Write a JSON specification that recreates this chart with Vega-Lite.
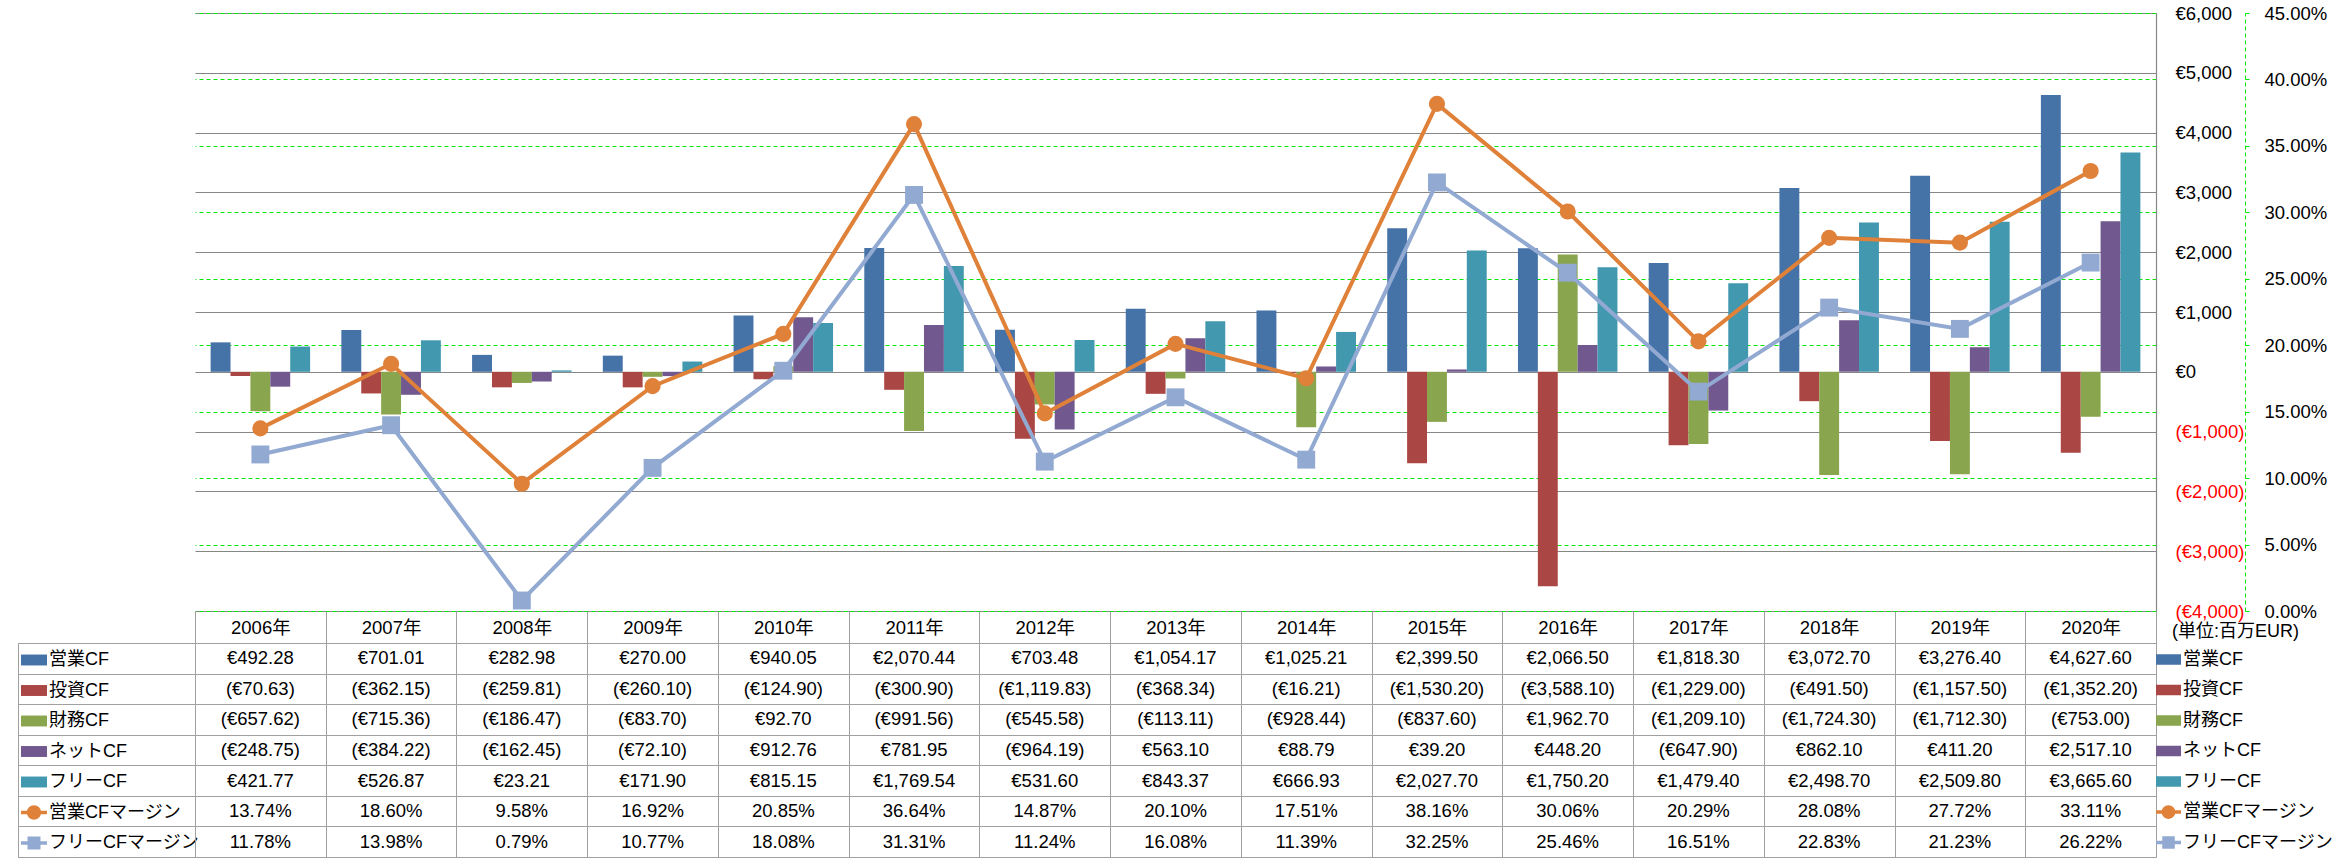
{
  "$schema": "https://vega.github.io/schema/vega-lite/v6.json",
  "padding": {"left": 17, "top": 4, "right": 0, "bottom": 0},
  "background": "white",
  "datasets": {
    "cf": [
      {"year": "2006年", "series": "営業CF", "value": 492.28},
      {"year": "2007年", "series": "営業CF", "value": 701.01},
      {"year": "2008年", "series": "営業CF", "value": 282.98},
      {"year": "2009年", "series": "営業CF", "value": 270.00},
      {"year": "2010年", "series": "営業CF", "value": 940.05},
      {"year": "2011年", "series": "営業CF", "value": 2070.44},
      {"year": "2012年", "series": "営業CF", "value": 703.48},
      {"year": "2013年", "series": "営業CF", "value": 1054.17},
      {"year": "2014年", "series": "営業CF", "value": 1025.21},
      {"year": "2015年", "series": "営業CF", "value": 2399.50},
      {"year": "2016年", "series": "営業CF", "value": 2066.50},
      {"year": "2017年", "series": "営業CF", "value": 1818.30},
      {"year": "2018年", "series": "営業CF", "value": 3072.70},
      {"year": "2019年", "series": "営業CF", "value": 3276.40},
      {"year": "2020年", "series": "営業CF", "value": 4627.60},
      {"year": "2006年", "series": "投資CF", "value": -70.63},
      {"year": "2007年", "series": "投資CF", "value": -362.15},
      {"year": "2008年", "series": "投資CF", "value": -259.81},
      {"year": "2009年", "series": "投資CF", "value": -260.10},
      {"year": "2010年", "series": "投資CF", "value": -124.90},
      {"year": "2011年", "series": "投資CF", "value": -300.90},
      {"year": "2012年", "series": "投資CF", "value": -1119.83},
      {"year": "2013年", "series": "投資CF", "value": -368.34},
      {"year": "2014年", "series": "投資CF", "value": -16.21},
      {"year": "2015年", "series": "投資CF", "value": -1530.20},
      {"year": "2016年", "series": "投資CF", "value": -3588.10},
      {"year": "2017年", "series": "投資CF", "value": -1229.00},
      {"year": "2018年", "series": "投資CF", "value": -491.50},
      {"year": "2019年", "series": "投資CF", "value": -1157.50},
      {"year": "2020年", "series": "投資CF", "value": -1352.20},
      {"year": "2006年", "series": "財務CF", "value": -657.62},
      {"year": "2007年", "series": "財務CF", "value": -715.36},
      {"year": "2008年", "series": "財務CF", "value": -186.47},
      {"year": "2009年", "series": "財務CF", "value": -83.70},
      {"year": "2010年", "series": "財務CF", "value": 92.70},
      {"year": "2011年", "series": "財務CF", "value": -991.56},
      {"year": "2012年", "series": "財務CF", "value": -545.58},
      {"year": "2013年", "series": "財務CF", "value": -113.11},
      {"year": "2014年", "series": "財務CF", "value": -928.44},
      {"year": "2015年", "series": "財務CF", "value": -837.60},
      {"year": "2016年", "series": "財務CF", "value": 1962.70},
      {"year": "2017年", "series": "財務CF", "value": -1209.10},
      {"year": "2018年", "series": "財務CF", "value": -1724.30},
      {"year": "2019年", "series": "財務CF", "value": -1712.30},
      {"year": "2020年", "series": "財務CF", "value": -753.00},
      {"year": "2006年", "series": "ネットCF", "value": -248.75},
      {"year": "2007年", "series": "ネットCF", "value": -384.22},
      {"year": "2008年", "series": "ネットCF", "value": -162.45},
      {"year": "2009年", "series": "ネットCF", "value": -72.10},
      {"year": "2010年", "series": "ネットCF", "value": 912.76},
      {"year": "2011年", "series": "ネットCF", "value": 781.95},
      {"year": "2012年", "series": "ネットCF", "value": -964.19},
      {"year": "2013年", "series": "ネットCF", "value": 563.10},
      {"year": "2014年", "series": "ネットCF", "value": 88.79},
      {"year": "2015年", "series": "ネットCF", "value": 39.20},
      {"year": "2016年", "series": "ネットCF", "value": 448.20},
      {"year": "2017年", "series": "ネットCF", "value": -647.90},
      {"year": "2018年", "series": "ネットCF", "value": 862.10},
      {"year": "2019年", "series": "ネットCF", "value": 411.20},
      {"year": "2020年", "series": "ネットCF", "value": 2517.10},
      {"year": "2006年", "series": "フリーCF", "value": 421.77},
      {"year": "2007年", "series": "フリーCF", "value": 526.87},
      {"year": "2008年", "series": "フリーCF", "value": 23.21},
      {"year": "2009年", "series": "フリーCF", "value": 171.90},
      {"year": "2010年", "series": "フリーCF", "value": 815.15},
      {"year": "2011年", "series": "フリーCF", "value": 1769.54},
      {"year": "2012年", "series": "フリーCF", "value": 531.60},
      {"year": "2013年", "series": "フリーCF", "value": 843.37},
      {"year": "2014年", "series": "フリーCF", "value": 666.93},
      {"year": "2015年", "series": "フリーCF", "value": 2027.70},
      {"year": "2016年", "series": "フリーCF", "value": 1750.20},
      {"year": "2017年", "series": "フリーCF", "value": 1479.40},
      {"year": "2018年", "series": "フリーCF", "value": 2498.70},
      {"year": "2019年", "series": "フリーCF", "value": 2509.80},
      {"year": "2020年", "series": "フリーCF", "value": 3665.60},
      {"year": "2006年", "series": "営業CFマージン", "value": 0.1374},
      {"year": "2007年", "series": "営業CFマージン", "value": 0.1860},
      {"year": "2008年", "series": "営業CFマージン", "value": 0.0958},
      {"year": "2009年", "series": "営業CFマージン", "value": 0.1692},
      {"year": "2010年", "series": "営業CFマージン", "value": 0.2085},
      {"year": "2011年", "series": "営業CFマージン", "value": 0.3664},
      {"year": "2012年", "series": "営業CFマージン", "value": 0.1487},
      {"year": "2013年", "series": "営業CFマージン", "value": 0.2010},
      {"year": "2014年", "series": "営業CFマージン", "value": 0.1751},
      {"year": "2015年", "series": "営業CFマージン", "value": 0.3816},
      {"year": "2016年", "series": "営業CFマージン", "value": 0.3006},
      {"year": "2017年", "series": "営業CFマージン", "value": 0.2029},
      {"year": "2018年", "series": "営業CFマージン", "value": 0.2808},
      {"year": "2019年", "series": "営業CFマージン", "value": 0.2772},
      {"year": "2020年", "series": "営業CFマージン", "value": 0.3311},
      {"year": "2006年", "series": "フリーCFマージン", "value": 0.1178},
      {"year": "2007年", "series": "フリーCFマージン", "value": 0.1398},
      {"year": "2008年", "series": "フリーCFマージン", "value": 0.0079},
      {"year": "2009年", "series": "フリーCFマージン", "value": 0.1077},
      {"year": "2010年", "series": "フリーCFマージン", "value": 0.1808},
      {"year": "2011年", "series": "フリーCFマージン", "value": 0.3131},
      {"year": "2012年", "series": "フリーCFマージン", "value": 0.1124},
      {"year": "2013年", "series": "フリーCFマージン", "value": 0.1608},
      {"year": "2014年", "series": "フリーCFマージン", "value": 0.1139},
      {"year": "2015年", "series": "フリーCFマージン", "value": 0.3225},
      {"year": "2016年", "series": "フリーCFマージン", "value": 0.2546},
      {"year": "2017年", "series": "フリーCFマージン", "value": 0.1651},
      {"year": "2018年", "series": "フリーCFマージン", "value": 0.2283},
      {"year": "2019年", "series": "フリーCFマージン", "value": 0.2123},
      {"year": "2020年", "series": "フリーCFマージン", "value": 0.2622}
    ]
  },
  "data": {"name": "cf"},
  "columns": 3,
  "spacing": {"row": 32, "column": 0},
  "bounds": "flush",
  "align": "each",
  "resolve": {
    "scale": {"x": "independent", "y": "independent", "color": "independent", "shape": "independent"},
    "legend": {"color": "independent", "shape": "independent"}
  },
  "concat": [
    {
      "width": 177, "height": 598,
      "data": {"values": [{"t": ""}]},
      "mark": {"type": "text"},
      "encoding": {"text": {"field": "t"}}
    },
    {
      "width": 1961, "height": 598,
      "layer": [
        {
          "transform": [{"filter": {"field": "series", "oneOf": ["営業CF", "投資CF", "財務CF", "ネットCF", "フリーCF"]}}],
          "mark": {"type": "bar"},
          "encoding": {
            "x": {"field": "year", "type": "ordinal", "scale": {"paddingInner": 0.239, "paddingOuter": 0.1195}, "axis": null},
            "xOffset": {"field": "series", "type": "nominal", "scale": {"domain": ["営業CF", "投資CF", "財務CF", "ネットCF", "フリーCF"]}},
            "y": {
              "field": "value", "type": "quantitative",
              "scale": {"domain": [-4000, 6000], "nice": false, "zero": false},
              "axis": {
                "orient": "right", "title": null,
                "values": [-4000, -3000, -2000, -1000, 0, 1000, 2000, 3000, 4000, 5000, 6000],
                "format": "($,.0f",
                "grid": true, "gridColor": "#878787", "gridOpacity": 1, "gridWidth": 1.2,
                "domain": true, "domainColor": "#878787", "domainWidth": 1.2,
                "ticks": false,
                "labelAlign": "left", "labelBaseline": "middle", "labelPadding": 19, "labelFontSize": 18.5,
                "labelColor": {"condition": {"test": "datum.value < 0", "value": "#ff0000"}, "value": "#000000"}
              }
            },
            "color": {
              "field": "series", "type": "nominal",
              "scale": {
                "domain": ["営業CF", "投資CF", "財務CF", "ネットCF", "フリーCF", "営業CFマージン", "フリーCFマージン"],
                "range": ["#4572A7", "#AA4643", "#89A54E", "#71588F", "#4198AF", "#DF8139", "#92A9D1"]
              },
              "legend": null
            }
          }
        },
        {
          "transform": [{"filter": {"field": "series", "oneOf": ["営業CFマージン", "フリーCFマージン"]}}],
          "encoding": {
            "x": {"field": "year", "type": "ordinal"},
            "y": {
              "field": "value", "type": "quantitative",
              "scale": {"domain": [0, 0.45], "nice": false, "zero": false},
              "axis": {
                "orient": "right", "offset": 89, "title": null,
                "values": [0, 0.05, 0.1, 0.15, 0.2, 0.25, 0.3, 0.35, 0.4, 0.45],
                "format": ".2%",
                "grid": true, "gridColor": "#00e600", "gridOpacity": 1, "gridDash": [4, 3], "gridWidth": 1,
                "domain": true, "domainColor": "#00e600", "domainDash": [4, 3],
                "ticks": true, "tickSize": 4, "tickColor": "#00e600",
                "labelAlign": "left", "labelBaseline": "middle", "labelPadding": 15, "labelFontSize": 18.5, "labelColor": "#000000"
              }
            },
            "color": {
              "field": "series", "type": "nominal",
              "scale": {
                "domain": ["営業CF", "投資CF", "財務CF", "ネットCF", "フリーCF", "営業CFマージン", "フリーCFマージン"],
                "range": ["#4572A7", "#AA4643", "#89A54E", "#71588F", "#4198AF", "#DF8139", "#92A9D1"]
              },
              "legend": null
            }
          },
          "layer": [
            {"mark": {"type": "line", "strokeWidth": 4}},
            {
              "transform": [{"filter": {"field": "series", "equal": "営業CFマージン"}}],
              "mark": {"type": "point", "shape": "circle", "filled": true, "size": 260, "opacity": 1}
            },
            {
              "transform": [{"filter": {"field": "series", "equal": "フリーCFマージン"}}],
              "mark": {"type": "point", "shape": "square", "filled": true, "size": 320, "opacity": 1}
            }
          ]
        }
      ],
      "resolve": {"scale": {"y": "independent"}}
    },
    {
      "width": 181, "height": 598,
      "data": {"values": [{"t": ""}]},
      "mark": {"type": "text"},
      "encoding": {"text": {"field": "t"}}
    },
    {
      "width": 177, "height": 214,
      "view": {"stroke": "#a0a0a0"},
      "transform": [{"filter": "datum.year === '2006年'"}],
      "mark": {"type": "point", "filled": true, "size": 0},
      "encoding": {
        "y": {
          "field": "series", "type": "nominal",
          "scale": {"domain": ["営業CF", "投資CF", "財務CF", "ネットCF", "フリーCF", "営業CFマージン", "フリーCFマージン"], "paddingInner": 0, "paddingOuter": 0},
          "axis": {"title": null, "labels": false, "ticks": false, "domain": false, "grid": true, "tickBand": "extent", "gridColor": "#a0a0a0", "gridOpacity": 1}
        },
        "color": {
          "field": "series", "type": "nominal",
          "scale": {
            "domain": ["営業CF", "投資CF", "財務CF", "ネットCF", "フリーCF", "営業CFマージン", "フリーCFマージン"],
            "range": ["#4572A7", "#AA4643", "#89A54E", "#71588F", "#4198AF", "#DF8139", "#92A9D1"]
          },
          "legend": {"title": null, "orient": "none", "legendX": 3, "legendY": 4, "symbolSize": 676, "symbolStrokeWidth": 0, "symbolOpacity": 1, "labelFontSize": 18, "labelOffset": 2, "rowPadding": 8.5, "padding": 0, "labelLimit": 400}
        },
        "shape": {
          "field": "series", "type": "nominal",
          "scale": {
            "domain": ["営業CF", "投資CF", "財務CF", "ネットCF", "フリーCF", "営業CFマージン", "フリーCFマージン"],
            "range": ["M-1,-0.42H1V0.42H-1Z", "M-1,-0.42H1V0.42H-1Z", "M-1,-0.42H1V0.42H-1Z", "M-1,-0.42H1V0.42H-1Z", "M-1,-0.42H1V0.42H-1Z",
                      "M-1,-0.14H1V0.14H-1Z M-0.55,0A0.55,0.55,0,1,1,0.55,0A0.55,0.55,0,1,1,-0.55,0Z",
                      "M-1,-0.14H1V0.14H-1Z M-0.5,-0.5H0.5V0.5H-0.5Z"]
          },
          "legend": {"title": null, "orient": "none", "legendX": 3, "legendY": 4, "symbolSize": 676, "symbolStrokeWidth": 0, "symbolOpacity": 1, "labelFontSize": 18, "labelOffset": 2, "rowPadding": 8.5, "padding": 0, "labelLimit": 400}
        }
      }
    },
    {
      "width": 1961, "height": 214,
      "view": {"stroke": "#a0a0a0"},
      "encoding": {
        "x": {
          "field": "year", "type": "ordinal",
          "scale": {"paddingInner": 0, "paddingOuter": 0},
          "axis": {"orient": "top", "title": null, "tickBand": "extent", "ticks": true, "tickSize": 32, "tickColor": "#a0a0a0",
                   "domain": true, "domainColor": "#a0a0a0", "grid": true, "gridColor": "#a0a0a0", "gridOpacity": 1,
                   "labelAngle": 0, "labelBaseline": "middle", "labelPadding": -16, "labelFontSize": 18.5, "labelColor": "#000000"}
        },
        "y": {
          "field": "series", "type": "nominal",
          "scale": {"domain": ["営業CF", "投資CF", "財務CF", "ネットCF", "フリーCF", "営業CFマージン", "フリーCFマージン"], "paddingInner": 0, "paddingOuter": 0},
          "axis": {"title": null, "labels": false, "ticks": false, "domain": false, "grid": true, "tickBand": "extent", "gridColor": "#a0a0a0", "gridOpacity": 1}
        }
      },
      "layer": [
        {
          "transform": [{"filter": {"field": "series", "oneOf": ["営業CF", "投資CF", "財務CF", "ネットCF", "フリーCF"]}}],
          "mark": {"type": "text", "fontSize": 18.5, "color": "#000000"},
          "encoding": {"text": {"field": "value", "type": "quantitative", "format": "($,.2f"}}
        },
        {
          "transform": [{"filter": {"field": "series", "oneOf": ["営業CFマージン", "フリーCFマージン"]}}],
          "mark": {"type": "text", "fontSize": 18.5, "color": "#000000"},
          "encoding": {"text": {"field": "value", "type": "quantitative", "format": ".2%"}}
        }
      ]
    },
    {
      "width": 181, "height": 214,
      "title": {"text": "(単位:百万EUR)", "anchor": "start", "frame": "group", "fontSize": 18, "fontWeight": "normal", "offset": 2, "dx": 16, "color": "#000000"},
      "transform": [{"filter": "datum.year === '2006年'"}],
      "mark": {"type": "point", "filled": true, "size": 0},
      "encoding": {
        "y": {
          "field": "series", "type": "nominal",
          "scale": {"domain": ["営業CF", "投資CF", "財務CF", "ネットCF", "フリーCF", "営業CFマージン", "フリーCFマージン"], "paddingInner": 0, "paddingOuter": 0},
          "axis": null
        },
        "color": {
          "field": "series", "type": "nominal",
          "scale": {
            "domain": ["営業CF", "投資CF", "財務CF", "ネットCF", "フリーCF", "営業CFマージン", "フリーCFマージン"],
            "range": ["#4572A7", "#AA4643", "#89A54E", "#71588F", "#4198AF", "#DF8139", "#92A9D1"]
          },
          "legend": {"title": null, "orient": "none", "legendX": 0, "legendY": 4, "symbolSize": 625, "symbolStrokeWidth": 0, "symbolOpacity": 1, "labelFontSize": 18, "labelOffset": 2, "rowPadding": 8.5, "padding": 0, "labelLimit": 400}
        },
        "shape": {
          "field": "series", "type": "nominal",
          "scale": {
            "domain": ["営業CF", "投資CF", "財務CF", "ネットCF", "フリーCF", "営業CFマージン", "フリーCFマージン"],
            "range": ["M-1,-0.42H1V0.42H-1Z", "M-1,-0.42H1V0.42H-1Z", "M-1,-0.42H1V0.42H-1Z", "M-1,-0.42H1V0.42H-1Z", "M-1,-0.42H1V0.42H-1Z",
                      "M-1,-0.14H1V0.14H-1Z M-0.55,0A0.55,0.55,0,1,1,0.55,0A0.55,0.55,0,1,1,-0.55,0Z",
                      "M-1,-0.14H1V0.14H-1Z M-0.5,-0.5H0.5V0.5H-0.5Z"]
          },
          "legend": {"title": null, "orient": "none", "legendX": 0, "legendY": 4, "symbolSize": 625, "symbolStrokeWidth": 0, "symbolOpacity": 1, "labelFontSize": 18, "labelOffset": 2, "rowPadding": 8.5, "padding": 0, "labelLimit": 400}
        }
      }
    }
  ],
  "config": {
    "font": "Liberation Sans, Noto Sans CJK JP, sans-serif",
    "view": {"stroke": null},
    "axis": {"labelFont": "Liberation Sans, Noto Sans CJK JP, sans-serif", "labelOverlap": false},
    "legend": {"labelFont": "Liberation Sans, Noto Sans CJK JP, sans-serif", "labelColor": "#000000"},
    "text": {"font": "Liberation Sans, Noto Sans CJK JP, sans-serif"},
    "title": {"font": "Liberation Sans, Noto Sans CJK JP, sans-serif"},
    "locale": {"number": {"decimal": ".", "thousands": ",", "grouping": [3], "currency": ["€", ""]}}
  }
}
